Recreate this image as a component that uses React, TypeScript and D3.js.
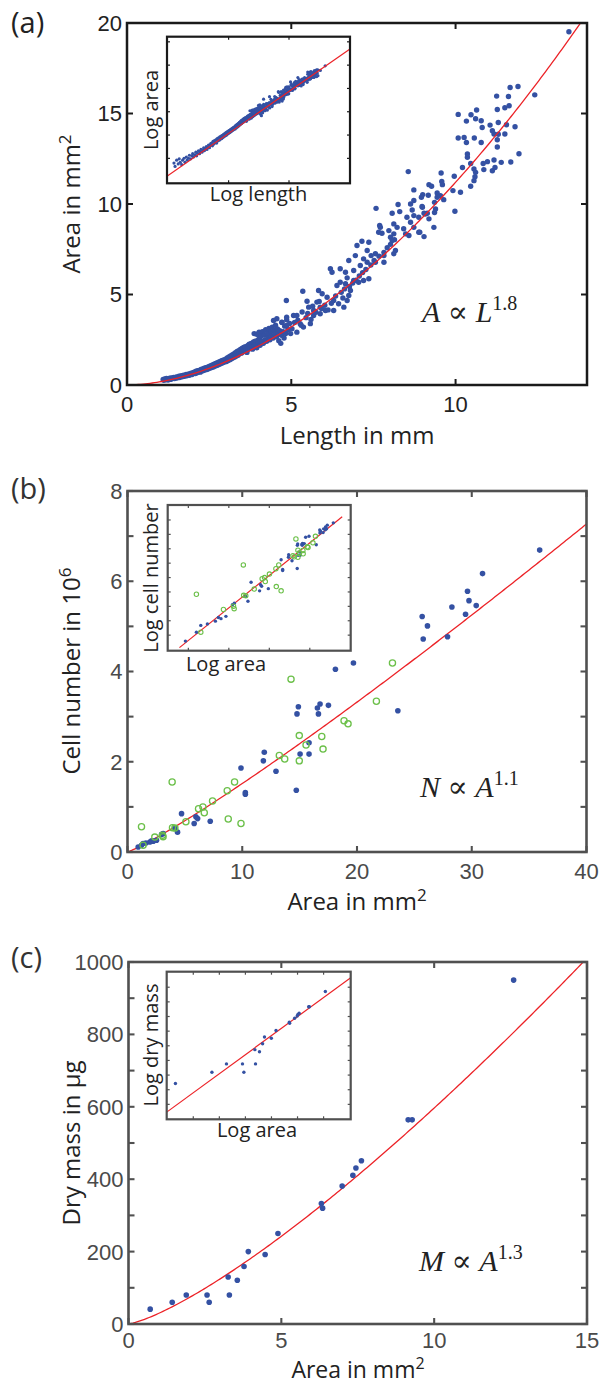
import React from 'react';
import * as d3 from 'd3';

// ---------- Panel (a): length vs area ----------
const lengthAreaBand: [number, number][] = [
  [1.10,0.30],[1.12,0.26],[1.15,0.34],[1.18,0.29],[1.20,0.36],[1.22,0.31],[1.25,0.28],[1.27,0.34],[1.30,0.37],[1.32,0.31],
  [1.35,0.39],[1.37,0.34],[1.40,0.37],[1.42,0.42],[1.45,0.36],[1.48,0.41],[1.50,0.45],[1.52,0.39],[1.55,0.43],[1.58,0.48],
  [1.60,0.41],[1.62,0.46],[1.65,0.51],[1.68,0.45],[1.70,0.49],[1.72,0.54],[1.75,0.48],[1.78,0.53],[1.80,0.58],[1.82,0.51],
  [1.85,0.56],[1.88,0.61],[1.90,0.54],[1.92,0.59],[1.95,0.65],[1.98,0.58],[2.00,0.63],[2.02,0.69],
  [2.05,0.71],[2.08,0.63],[2.10,0.76],[2.13,0.68],[2.15,0.79],[2.18,0.72],[2.20,0.81],[2.23,0.71],[2.25,0.86],[2.28,0.78],
  [2.30,0.89],[2.33,0.80],[2.35,0.93],[2.38,0.84],[2.40,0.96],[2.43,0.86],[2.45,0.99],[2.48,0.90],[2.50,1.03],[2.53,0.94],
  [2.55,1.07],[2.58,0.97],[2.60,1.11],[2.63,1.00],[2.65,1.15],[2.68,1.05],[2.70,1.19],[2.73,1.08],[2.75,1.23],[2.78,1.12],
  [2.80,1.27],[2.83,1.16],[2.85,1.31],[2.88,1.20],[2.90,1.35],[2.93,1.24],[2.95,1.39],[2.98,1.28],
  [3.00,1.42],[3.03,1.30],[3.05,1.50],[3.08,1.36],[3.10,1.55],[3.13,1.40],[3.15,1.60],[3.18,1.45],[3.20,1.66],[3.23,1.50],
  [3.25,1.72],[3.28,1.55],[3.30,1.78],[3.33,1.60],[3.35,1.85],[3.38,1.65],[3.40,1.90],[3.42,1.72],[3.45,1.96],[3.48,1.76],
  [3.50,2.02],[3.52,1.82],[3.55,2.08],[3.58,1.88],[3.60,2.12],[3.62,1.92],[3.65,1.80],[3.68,2.18],[3.70,1.98],[3.72,2.25],
  [3.75,2.04],[3.78,2.30],[3.80,2.10],[3.82,1.98],[3.85,2.38],[3.88,2.16],[3.90,2.42],[3.92,2.22],[3.95,2.06],[3.98,2.48],
  [3.87,2.84],[3.95,2.80],[4.02,2.92],
  [4.00,2.30],[4.03,2.60],[4.05,2.20],[4.08,2.70],[4.10,2.40],[4.12,2.95],[4.15,2.30],[4.18,2.78],[4.20,2.50],[4.22,3.05],
  [4.25,2.42],[4.28,2.85],[4.30,2.62],[4.32,3.12],[4.35,2.50],[4.38,2.95],[4.40,2.72],[4.42,3.20],[4.45,2.60],[4.48,3.02],
  [4.50,2.80],[4.52,3.30],[4.55,2.68],[4.58,3.10],[4.60,2.88],[4.62,2.45],[4.65,3.00],[4.68,2.30],[4.70,2.75],[4.72,3.45],
  [4.75,2.95],[4.78,2.60],[4.80,3.25],[4.83,2.85],[4.86,3.60],[4.90,3.05],[4.95,3.40],
];

const lengthAreaScatter: [number, number][] = [
  [13.45,19.52],[12.41,16.03],[11.66,16.44],[11.90,16.49],[11.25,15.96],[11.61,15.94],[11.27,15.22],[11.50,15.32],[11.63,15.43],
  [10.08,14.95],[10.47,14.93],[10.64,15.19],[10.33,14.58],[10.61,14.71],[10.78,14.60],[11.05,14.36],[11.30,14.50],[11.55,14.38],
  [11.81,14.27],[10.81,14.23],[11.12,14.05],[11.17,13.87],[11.30,13.85],[11.50,13.87],[10.08,13.65],[10.26,13.68],[10.33,13.40],
  [10.57,13.65],[10.78,13.40],[11.27,13.55],[11.27,13.15],[10.36,12.76],[10.36,12.58],[10.21,12.02],[10.46,12.24],[10.56,11.94],
  [10.61,11.75],[10.59,11.51],[10.56,11.29],[10.46,10.98],[10.84,12.24],[10.97,12.34],[11.17,12.43],[11.39,12.30],[11.68,12.32],
  [11.93,12.78],[10.86,11.90],[11.12,11.84],[11.20,12.02],[9.56,11.71],[9.96,11.53],[9.58,11.25],[9.60,11.07],[8.56,11.79],
  [9.19,11.07],[9.27,10.98],[9.44,10.61],[8.73,10.78],[9.00,10.52],[8.96,10.37],[9.17,10.48],[9.92,10.74],[10.15,10.65],
  [9.36,10.09],[9.44,10.37],[9.64,10.24],[9.54,10.46],[9.98,9.60],[7.58,9.76],[8.25,9.97],[8.07,9.49],[8.30,9.58],[8.63,10.00],
  [8.73,10.19],[8.68,9.67],[8.52,9.27],[8.88,9.27],[9.04,9.49],[9.14,9.49],[8.99,9.82],[9.36,9.53],
  [7.71,8.71],[7.66,8.44],[7.76,8.38],[8.12,8.90],[8.22,8.71],[8.42,8.63],[8.63,8.99],[8.73,8.71],[8.88,8.44],[9.04,8.20],
  [8.48,8.35],[8.58,8.26],[8.12,8.35],[8.02,8.16],[8.07,7.98],[8.17,7.43],[8.12,7.25],[7.36,7.89],[7.15,7.94],[7.31,7.43],
  [7.56,7.25],[7.82,7.15],[8.98,9.86],[8.73,9.36],[9.08,9.45],[9.39,9.73],[9.19,9.18],[9.34,8.71],[8.91,8.44],
  [7.69,8.81],[7.97,8.53],[7.00,7.71],[7.43,7.15],[7.20,6.97],[7.10,6.60],[7.31,6.78],[6.95,7.15],[6.75,6.88],[7.56,6.78],
  [7.82,6.78],[6.19,6.42],[6.24,6.23],[6.49,6.42],[6.65,6.23],[6.90,6.33],[6.70,5.92],[6.90,5.77],[7.05,5.68],[7.20,5.77],
  [7.36,5.87],[6.49,5.68],[6.39,5.50],[6.65,5.59],[5.35,5.18],[5.83,5.22],[5.94,5.04],[6.09,4.85],[6.29,4.67],[6.44,4.49],
  [6.60,4.30],[6.29,4.12],[6.70,4.67],[6.80,5.22],[6.75,4.95],[4.85,4.67],[5.48,4.63],[5.78,4.58],[5.53,4.30],[5.88,4.30],
  [5.68,4.12],[6.04,4.12],[5.33,4.03],[5.17,3.84],[5.68,3.84],[5.88,3.94],[4.56,3.66],[4.86,3.75],[5.07,3.84],[4.71,3.47],
  [4.46,3.57],[4.86,3.29],[5.02,3.11],[5.17,2.92],[5.37,3.20],[5.58,3.39],[4.98,2.84],[5.27,3.39],
  [5.10,3.45],[5.20,3.58],[5.30,3.30],[5.45,3.72],[5.60,3.62],[5.75,4.02],[5.92,4.22],[6.02,4.41],[6.12,4.15],[6.22,4.52],
  [5.50,3.95],[5.65,4.35],[5.85,4.62],[6.35,4.92],[6.52,5.12],[6.57,4.81],[6.62,5.31],[6.77,5.44],[6.87,5.63],[6.97,5.79],
  [7.07,6.02],[7.17,6.21],[7.27,6.38],[7.42,6.63],[7.52,6.88],[7.67,7.12],[7.82,7.33],[7.92,7.58],[8.02,7.77],[8.14,8.03],
];

const lengthArea: [number, number][] = [...lengthAreaBand, ...lengthAreaScatter];

// ---------- Panel (b): area vs cell number (10^6) ----------
const cellBlue: [number, number][] = [
  [35.92,6.69],[30.94,6.17],[29.63,5.78],[29.76,5.57],[30.39,5.46],[28.27,5.43],[29.46,5.27],[25.68,5.22],[26.14,5.01],
  [25.77,4.72],[27.89,4.77],[18.12,4.05],[19.69,4.19],[23.56,3.13],[14.89,3.22],[14.77,3.06],[16.55,3.19],[16.78,3.28],
  [16.64,3.06],[17.51,3.25],[11.92,2.21],[11.84,2.02],[12.94,1.79],[15.04,2.17],[15.82,2.42],[15.82,2.17],[9.89,1.86],
  [14.71,1.37],[10.27,1.32],[10.27,1.28],[4.71,0.85],[5.81,0.63],[5.96,0.78],[6.11,0.74],[7.21,0.68],[4.36,0.44],
  [4.13,0.52],[3.11,0.41],[2.53,0.26],[1.95,0.22],[1.36,0.19],[0.93,0.11],[1.22,0.15],[2.24,0.24],[2.97,0.39],[1.60,0.20],[2.10,0.25],
];
const cellGreen: [number, number][] = [
  [23.09,4.19],[14.25,3.83],[21.69,3.34],[18.87,2.91],[19.22,2.84],[14.97,2.58],[16.93,2.56],[15.56,2.37],[17.04,2.28],
  [13.23,2.14],[13.70,2.06],[14.97,2.02],[3.89,1.55],[9.33,1.55],[8.69,1.36],[7.41,1.13],[6.19,0.96],[6.57,1.00],[6.69,0.87],
  [5.09,0.67],[8.78,0.73],[9.89,0.63],[1.22,0.56],[3.92,0.54],[4.13,0.53],[2.38,0.33],[3.05,0.37],[3.10,0.34],[1.36,0.15],
];

// ---------- Panel (c): area vs dry mass ----------
const massData: [number, number][] = [
  [0.71,41],[1.43,60],[1.89,80],[2.57,80],[2.64,60],[3.26,130],[3.30,80],[3.56,121],[3.78,159],[3.92,200],[4.47,192],
  [4.89,250],[6.31,333],[6.35,320],[6.99,381],[7.34,411],[7.44,431],[7.62,451],[9.15,564],[9.28,564],[12.60,950],
];

// ---------- ticks ----------
const aXTicks = [0, 5, 10];
const aYTicks = [0, 5, 10, 15, 20];
const bXTicks = [0, 10, 20, 30, 40];
const bYTicks = [0, 1, 2, 3, 4, 5, 6, 7, 8];
const bYLabels = [0, 2, 4, 6, 8];
const cXTicks = [0, 5, 10, 15];
const cYTicks = [0, 100, 200, 300, 400, 500, 600, 700, 800, 900, 1000];
const cYLabels = [0, 200, 400, 600, 800, 1000];

const aInsetXTicks = [1, 2];
const aInsetYTicks = [-1, 0, 1, 2, 3, 4];
const bInsetXTicks = [0, 1, 2, 3];
const bInsetYTicks = [-2, -1.5, -1, -0.5, 0, 0.5, 1, 1.5, 2];
const cInsetXTicks = [0, 0.5, 1, 1.5, 2, 2.5];
const cInsetYTicks = [3, 3.5, 4, 4.5, 5, 5.5, 6, 6.5, 7];

// fit parameters
const fitA = { c: 0.1775, k: 1.8 };
const fitB = { c: 0.1125, k: 1.13 };
const fitC = { c: 29.9, k: 1.3 };

const BLUE = '#3451a3';
const RED = '#ec2227';
const GREEN = '#6cc04a';
const SANS = "'Open Sans', 'Noto Sans', sans-serif";
const TICKF = "'Liberation Sans', Arial, sans-serif";
const SERIF = "'Liberation Serif', 'DejaVu Serif', serif";

type Sc = d3.ScaleLinear<number, number>;

function Axes({ xs, ys, xTicks, yTicks, xLabels, yLabels, color, labelColor, tickLen, xLabelDy, sw, fontSize }: {
  xs: Sc; ys: Sc; xTicks: number[]; yTicks: number[]; xLabels: number[]; yLabels: number[];
  color: string; labelColor: string; tickLen: number; xLabelDy: number; sw: number; fontSize: number;
}) {
  const [x0, x1] = xs.range();
  const [y1, y0] = ys.range();
  return (
    <g>
      {xTicks.map((t) => (
        <g key={'x' + t} stroke={color} strokeWidth={sw * 0.8}>
          <line x1={xs(t)} x2={xs(t)} y1={y1} y2={y1 - tickLen} />
          <line x1={xs(t)} x2={xs(t)} y1={y0} y2={y0 + tickLen} />
        </g>
      ))}
      {yTicks.map((t) => (
        <g key={'y' + t} stroke={color} strokeWidth={sw * 0.8}>
          <line x1={x0} x2={x0 + tickLen} y1={ys(t)} y2={ys(t)} />
          <line x1={x1} x2={x1 - tickLen} y1={ys(t)} y2={ys(t)} />
        </g>
      ))}
      <rect x={x0} y={y0} width={x1 - x0} height={y1 - y0} fill="none" stroke={color} strokeWidth={sw} />
      {xLabels.map((t) => (
        <text key={'xl' + t} x={xs(t)} y={y1 + xLabelDy} textAnchor="middle" fontFamily={TICKF}
          fontSize={fontSize} fill={labelColor}>{t}</text>
      ))}
      {yLabels.map((t) => (
        <text key={'yl' + t} x={x0 - 5} y={ys(t)} dy="0.36em" textAnchor="end" fontFamily={TICKF}
          fontSize={fontSize} fill={labelColor}>{t}</text>
      ))}
    </g>
  );
}

function InsetFrame({ xs, ys, xTicks, yTicks, color, sw, tl }: {
  xs: Sc; ys: Sc; xTicks: number[]; yTicks: number[]; color: string; sw: number; tl: number;
}) {
  const [x0, x1] = xs.range();
  const [y1, y0] = ys.range();
  return (
    <g>
      {xTicks.map((t) => (
        <g key={'x' + t} stroke={color} strokeWidth={1.2}>
          <line x1={xs(t)} x2={xs(t)} y1={y1} y2={y1 - tl} />
          <line x1={xs(t)} x2={xs(t)} y1={y0} y2={y0 + tl} />
        </g>
      ))}
      {yTicks.map((t) => (
        <g key={'y' + t} stroke={color} strokeWidth={1.2}>
          <line x1={x0} x2={x0 + tl} y1={ys(t)} y2={ys(t)} />
          <line x1={x1} x2={x1 - tl} y1={ys(t)} y2={ys(t)} />
        </g>
      ))}
      <rect x={x0} y={y0} width={x1 - x0} height={y1 - y0} fill="none" stroke={color} strokeWidth={sw} />
    </g>
  );
}

function fitPath(xs: Sc, ys: Sc, c: number, k: number, from: number, to: number) {
  const pts = d3.range(0, 201).map((i) => from + ((to - from) * i) / 200);
  return d3.line<number>().x((v) => xs(v)).y((v) => ys(c * Math.pow(v, k)))(pts) || '';
}

function logFitPath(xs: Sc, ys: Sc, c: number, k: number, from: number, to: number) {
  return d3.line<number>().x((v) => xs(v)).y((v) => ys(Math.log(c) + k * v))([from, to]) || '';
}

function Formula({ x, y, a, b, exp }: { x: number; y: number; a: string; b: string; exp: string }) {
  return (
    <text x={x} y={y} fontFamily={SERIF} fontSize={30} fill="#222">
      <tspan fontStyle="italic">{a}</tspan>
      <tspan> ∝ </tspan>
      <tspan fontStyle="italic">{b}</tspan>
      <tspan dy={-12} fontSize={20}>{exp}</tspan>
    </text>
  );
}

export default function App() {
  // Panel (a)
  const axA = d3.scaleLinear().domain([0, 14]).range([127, 587]);
  const ayA = d3.scaleLinear().domain([0, 20]).range([385, 23]);
  const ixA = d3.scaleLinear().domain([-0.02, 3.01]).range([167, 350]);
  const iyA = d3.scaleLinear().domain([-2.07, 4.22]).range([183.3, 36.7]);

  // Panel (b)
  const axB = d3.scaleLinear().domain([0, 40]).range([127.5, 586.5]);
  const ayB = d3.scaleLinear().domain([0, 8]).range([852, 491]);
  const ixB = d3.scaleLinear().domain([-0.51, 4.01]).range([167.7, 350.7]);
  const iyB = d3.scaleLinear().domain([-2.54, 2.52]).range([650.7, 505]);

  // Panel (c)
  const axC = d3.scaleLinear().domain([0, 15]).range([128.5, 587]);
  const ayC = d3.scaleLinear().domain([0, 1000]).range([1324, 962]);
  const ixC = d3.scaleLinear().domain([-0.51, 3.02]).range([166.7, 350.7]);
  const iyC = d3.scaleLinear().domain([2.49, 7.53]).range([1119.3, 971.7]);

  const dark = '#1a1a1a';
  const grey = '#505050';

  return (
    <svg width={600} height={1384} style={{ position: 'absolute', left: 0, top: 0, background: '#fff' }}>
      <defs>
        <clipPath id="clipA"><rect x={127} y={23} width={460} height={362} /></clipPath>
        <clipPath id="clipB"><rect x={127.5} y={491} width={459} height={361} /></clipPath>
        <clipPath id="clipC"><rect x={128.5} y={962} width={458.5} height={362} /></clipPath>
        <clipPath id="clipIA"><rect x={167} y={36.7} width={183} height={146.6} /></clipPath>
        <clipPath id="clipIB"><rect x={167.7} y={505} width={183} height={145.7} /></clipPath>
        <clipPath id="clipIC"><rect x={166.7} y={971.7} width={184} height={147.6} /></clipPath>
      </defs>
      <rect x={0} y={0} width={600} height={1384} fill="#fff" />

      {/* ================= Panel (a) ================= */}
      <text x={11} y={33} fontFamily={SANS} fontSize={29} fill="#222">(a)</text>
      <g clipPath="url(#clipA)">
        {lengthArea.map((d, i) => (
          <circle key={i} cx={axA(d[0])} cy={ayA(d[1])} r={2.7} fill={BLUE} />
        ))}
        <path d={fitPath(axA, ayA, fitA.c, fitA.k, 0, 14)} fill="none" stroke={RED} strokeWidth={1.3} />
      </g>
      <Axes xs={axA} ys={ayA} xTicks={aXTicks} yTicks={aYTicks} xLabels={aXTicks} yLabels={aYTicks}
        color={dark} labelColor="#222" tickLen={6} xLabelDy={27} sw={2.5} fontSize={22} />
      <text x={357} y={444} textAnchor="middle" fontFamily={SANS} fontSize={24} fill="#222">Length in mm</text>
      <text transform="translate(80,204) rotate(-90)" textAnchor="middle" fontFamily={SANS} fontSize={24} fill="#222">
        Area in mm<tspan dy={-9} fontSize={17}>2</tspan>
      </text>
      <Formula x={422} y={322} a="A" b="L" exp="1.8" />
      {/* inset (a) */}
      <rect x={167} y={36.7} width={183} height={146.6} fill="#fff" />
      <g clipPath="url(#clipIA)">
        {lengthArea.map((d, i) => (
          <circle key={i} cx={ixA(Math.log(d[0]))} cy={iyA(Math.log(d[1]))} r={1.6} fill={BLUE} />
        ))}
        <path d={logFitPath(ixA, iyA, fitA.c, fitA.k, -0.02, 3.01)} fill="none" stroke={RED} strokeWidth={1.2} />
      </g>
      <InsetFrame xs={ixA} ys={iyA} xTicks={aInsetXTicks} yTicks={aInsetYTicks} color={dark} sw={2.2} tl={3} />
      <text x={258.5} y={201} textAnchor="middle" fontFamily={SANS} fontSize={20} fill="#222">Log length</text>
      <text transform="translate(158,110) rotate(-90)" textAnchor="middle" fontFamily={SANS} fontSize={20} fill="#222">Log area</text>

      {/* ================= Panel (b) ================= */}
      <text x={11} y={499} fontFamily={SANS} fontSize={29} fill="#333">(b)</text>
      <g clipPath="url(#clipB)">
        <path d={fitPath(axB, ayB, fitB.c, fitB.k, 0, 40)} fill="none" stroke={RED} strokeWidth={1.3} />
        {cellBlue.map((d, i) => (
          <circle key={i} cx={axB(d[0])} cy={ayB(d[1])} r={2.8} fill={BLUE} />
        ))}
        {cellGreen.map((d, i) => (
          <circle key={'g' + i} cx={axB(d[0])} cy={ayB(d[1])} r={3.1} fill="none" stroke={GREEN} strokeWidth={1.3} />
        ))}
      </g>
      <Axes xs={axB} ys={ayB} xTicks={bXTicks} yTicks={bYTicks} xLabels={bXTicks} yLabels={bYLabels}
        color={grey} labelColor="#4a4a4a" tickLen={6} xLabelDy={27} sw={2.6} fontSize={22} />
      <text x={357} y={910} textAnchor="middle" fontFamily={SANS} fontSize={24} fill="#222">
        Area in mm<tspan dy={-9} fontSize={17}>2</tspan>
      </text>
      <text transform="translate(80,671) rotate(-90)" textAnchor="middle" fontFamily={SANS} fontSize={24} fill="#222">
        Cell number in 10<tspan dy={-9} fontSize={17}>6</tspan>
      </text>
      <Formula x={420} y={797} a="N" b="A" exp="1.1" />
      {/* inset (b) */}
      <rect x={167.7} y={505} width={183} height={145.7} fill="#fff" />
      <g clipPath="url(#clipIB)">
        <path d={logFitPath(ixB, iyB, fitB.c, fitB.k, -0.22, 3.80)} fill="none" stroke={RED} strokeWidth={1.2} />
        {cellBlue.map((d, i) => (
          <circle key={i} cx={ixB(Math.log(d[0]))} cy={iyB(Math.log(d[1]))} r={1.7} fill={BLUE} />
        ))}
        {cellGreen.map((d, i) => (
          <circle key={'g' + i} cx={ixB(Math.log(d[0]))} cy={iyB(Math.log(d[1]))} r={2.2} fill="none" stroke={GREEN} strokeWidth={1.1} />
        ))}
      </g>
      <InsetFrame xs={ixB} ys={iyB} xTicks={bInsetXTicks} yTicks={bInsetYTicks} color={grey} sw={2.2} tl={3} />
      <text x={226} y={671} textAnchor="middle" fontFamily={SANS} fontSize={20} fill="#222">Log area</text>
      <text transform="translate(158,578) rotate(-90)" textAnchor="middle" fontFamily={SANS} fontSize={20} fill="#222">Log cell number</text>

      {/* ================= Panel (c) ================= */}
      <text x={11} y={968} fontFamily={SANS} fontSize={29} fill="#333">(c)</text>
      <g clipPath="url(#clipC)">
        <path d={fitPath(axC, ayC, fitC.c, fitC.k, 0, 15)} fill="none" stroke={RED} strokeWidth={1.3} />
        {massData.map((d, i) => (
          <circle key={i} cx={axC(d[0])} cy={ayC(d[1])} r={2.8} fill={BLUE} />
        ))}
      </g>
      <Axes xs={axC} ys={ayC} xTicks={cXTicks} yTicks={cYTicks} xLabels={cXTicks} yLabels={cYLabels}
        color={grey} labelColor="#4a4a4a" tickLen={6} xLabelDy={24} sw={2.6} fontSize={22} />
      <text x={358} y={1378} textAnchor="middle" fontFamily={SANS} fontSize={23} fill="#222">
        Area in mm<tspan dy={-9} fontSize={16}>2</tspan>
      </text>
      <text transform="translate(80,1143) rotate(-90)" textAnchor="middle" fontFamily={SANS} fontSize={24} fill="#222">
        Dry mass in µg
      </text>
      <Formula x={419} y={1271} a="M" b="A" exp="1.3" />
      {/* inset (c) */}
      <rect x={166.7} y={971.7} width={184} height={147.6} fill="#fff" />
      <g clipPath="url(#clipIC)">
        <path d={logFitPath(ixC, iyC, fitC.c, fitC.k, -0.51, 3.02)} fill="none" stroke={RED} strokeWidth={1.2} />
        {massData.map((d, i) => (
          <circle key={i} cx={ixC(Math.log(d[0]))} cy={iyC(Math.log(d[1]))} r={1.7} fill={BLUE} />
        ))}
      </g>
      <InsetFrame xs={ixC} ys={iyC} xTicks={cInsetXTicks} yTicks={cInsetYTicks} color={grey} sw={2.2} tl={3} />
      <text x={257} y={1137} textAnchor="middle" fontFamily={SANS} fontSize={20} fill="#222">Log area</text>
      <text transform="translate(158,1045) rotate(-90)" textAnchor="middle" fontFamily={SANS} fontSize={20} fill="#222">Log dry mass</text>
    </svg>
  );
}
